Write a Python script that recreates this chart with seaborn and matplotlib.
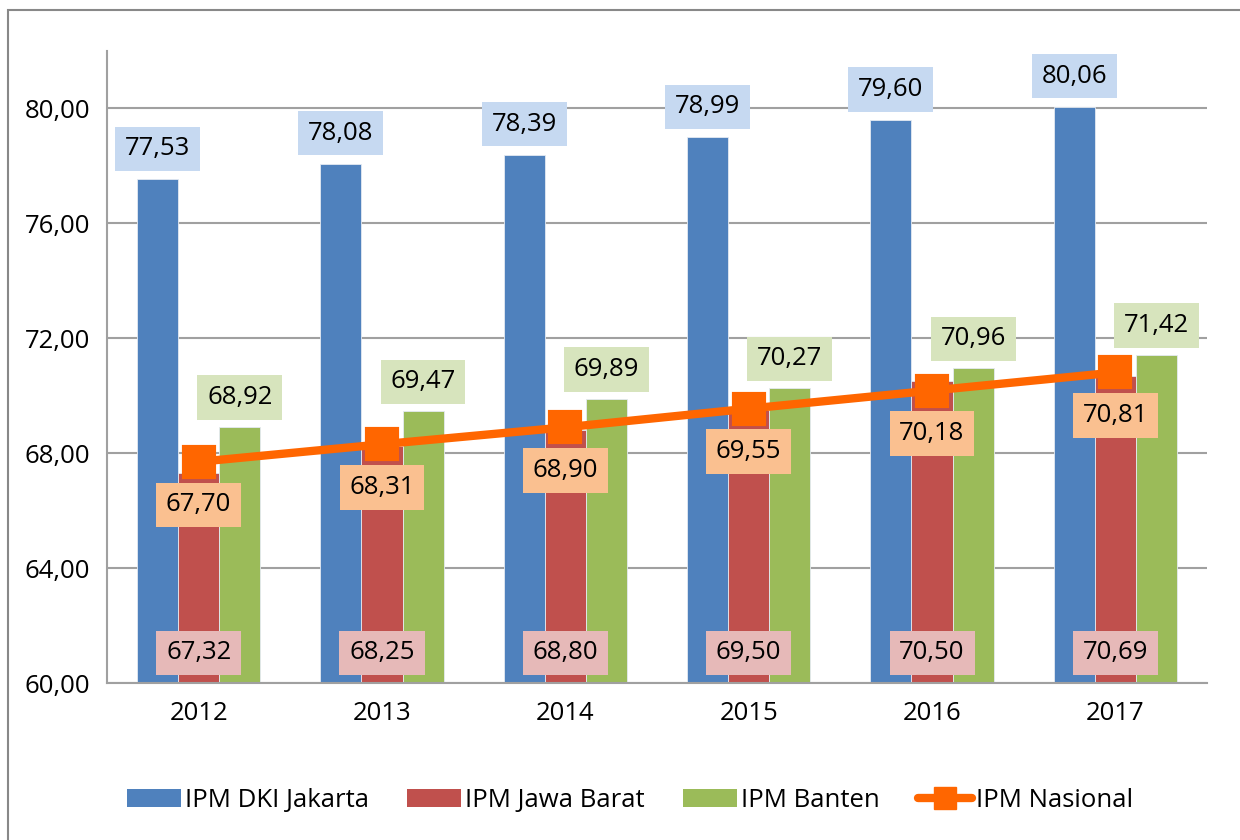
import pandas as pd
import numpy as np
import matplotlib
matplotlib.use("Agg")
import matplotlib.pyplot as plt
import seaborn as sns
from matplotlib.patches import Patch, Rectangle
from matplotlib.lines import Line2D

# Data
tahun = ["2012", "2013", "2014", "2015", "2016", "2017"]
dki_jakarta = [77.53, 78.08, 78.39, 78.99, 79.60, 80.06]
jawa_barat = [67.32, 68.25, 68.80, 69.50, 70.50, 70.69]
banten = [68.92, 69.47, 69.89, 70.27, 70.96, 71.42]
nasional = [67.70, 68.31, 68.90, 69.55, 70.18, 70.81]
series_names = ["IPM DKI Jakarta", "IPM Jawa Barat", "IPM Banten", "IPM Nasional"]

bar_colors = ["#4f81bd", "#c0504d", "#9bbb59"]
box_colors = ["#c6d9f1", "#e6b9b8", "#d7e4bd", "#fac090"]
line_color = "#ff6600"

sns.set_style("white")
plt.rcParams["font.family"] = ["Open Sans", "DejaVu Sans"]
plt.rcParams["text.color"] = "black"
plt.rcParams["xtick.color"] = "black"
plt.rcParams["ytick.color"] = "black"
FS = 18.5

df = pd.DataFrame({
    "Tahun": tahun * 3,
    "IPM": dki_jakarta + jawa_barat + banten,
    "Wilayah": [series_names[0]] * 6 + [series_names[1]] * 6 + [series_names[2]] * 6,
})

fig = plt.figure(figsize=(12.4, 8.4), dpi=100)
ax = fig.add_axes([0.0863, 0.1869, 0.8871, 0.7524])

sns.barplot(data=df, x="Tahun", y="IPM", hue="Wilayah", palette=bar_colors,
            saturation=1, width=0.672, gap=0, edgecolor="#e4eaf2", linewidth=0.6,
            legend=False, ax=ax, zorder=2)
sns.pointplot(x=tahun, y=nasional, color=line_color, markers="s",
              markersize=21, linewidth=6, ax=ax)
for ln in ax.lines:
    ln.set_zorder(4)
    ln.set_markeredgewidth(3)
    ln.set_markeredgecolor(line_color)

ax.set_ylim(60, 82)
ax.set_xlim(-0.5, 5.5)
ax.set_yticks(np.arange(60, 81, 4))
ax.set_yticklabels([f"{v:.2f}".replace(".", ",") for v in np.arange(60, 81, 4)])
ax.set_xlabel("")
ax.set_ylabel("")
ax.yaxis.grid(True, color="#a0a0a0", lw=1.5)
ax.set_axisbelow(True)
for s in ["top", "right"]:
    ax.spines[s].set_visible(False)
for s in ["left", "bottom"]:
    ax.spines[s].set_color("#a0a0a0")
    ax.spines[s].set_linewidth(1.5)
ax.tick_params(axis="y", length=7, width=1.5, color="#a0a0a0", labelsize=FS, pad=5,
               labelcolor="black")
ax.tick_params(axis="x", which="major", length=0, labelsize=FS, pad=13, labelcolor="black")
ax.set_xticks(np.arange(-0.5, 6, 1), minor=True)
ax.tick_params(axis="x", which="minor", length=8, width=1.5, color="#a0a0a0")

fmt = lambda v: f"{v:.2f}".replace(".", ",")
bw = 0.672 / 3
box = "square,pad=0.38"
for i in range(6):
    # DKI above bar
    ax.annotate(fmt(dki_jakarta[i]), (i - bw, dki_jakarta[i]), xytext=(0, 22),
                textcoords="offset points", ha="center", va="center", fontsize=FS,
                bbox=dict(boxstyle=box, fc=box_colors[0], ec="none"), zorder=5)
    # Banten above bar
    ax.annotate(fmt(banten[i]), (i + bw, banten[i]), xytext=(0, 21),
                textcoords="offset points", ha="center", va="center", fontsize=FS,
                bbox=dict(boxstyle=box, fc=box_colors[2], ec="none"), zorder=5)
    # Jawa Barat at the bottom of the bar
    ax.annotate(fmt(jawa_barat[i]), (i, 61.05), ha="center", va="center", fontsize=FS,
                bbox=dict(boxstyle=box, fc=box_colors[1], ec="none"), zorder=5)
    # Nasional below marker
    ax.annotate(fmt(nasional[i]), (i, nasional[i]), xytext=(0, -31),
                textcoords="offset points", ha="center", va="center", fontsize=FS,
                bbox=dict(boxstyle=box, fc=box_colors[3], ec="none"), zorder=5)

handles = [Patch(fc=c, ec="none") for c in bar_colors]
handles.append(Line2D([0], [0], color=line_color, lw=6, marker="s", markersize=16))
fig.legend(handles, series_names, loc="center", bbox_to_anchor=(0.508, 0.047), ncol=4,
           frameon=False, fontsize=FS, handlelength=2.1, handleheight=0.7,
           handletextpad=0.15, columnspacing=1.5)

fig.patches.append(Rectangle((8 / 1240, -0.1), 1.2, 1.1 - 10 / 840, transform=fig.transFigure,
                             fill=False, ec="#888888", lw=1.5))

fig.savefig("out.png", dpi=100)
